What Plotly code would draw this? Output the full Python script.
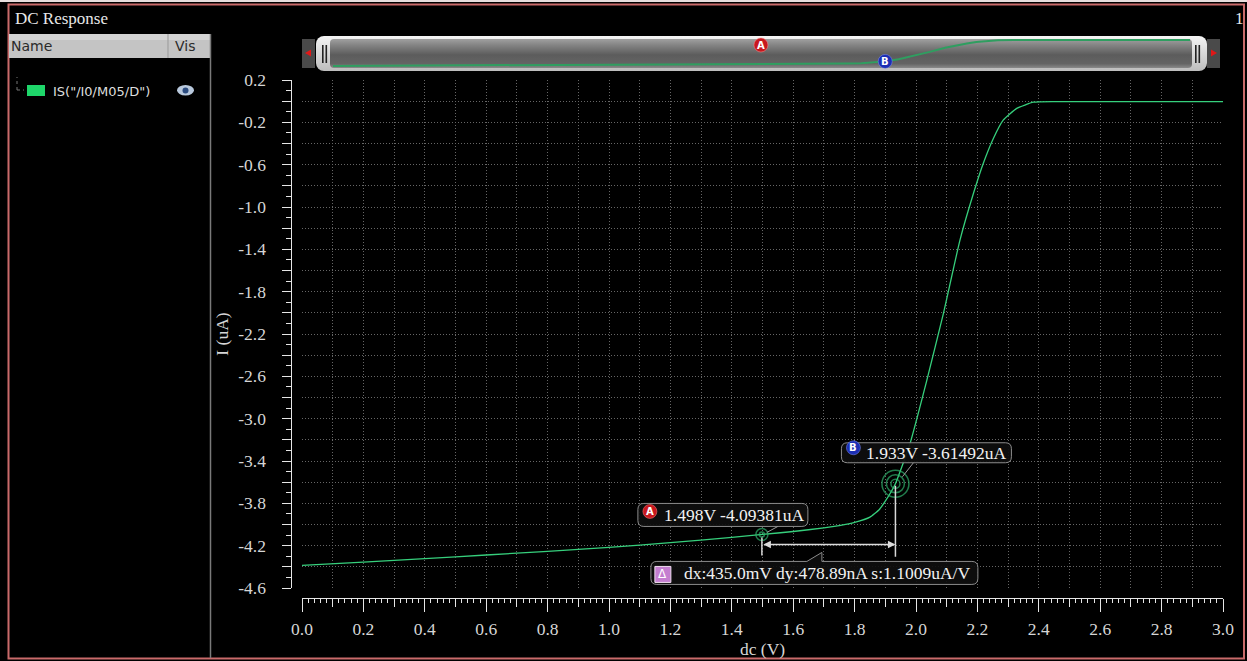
import urllib.parse
import plotly.graph_objects as go

# ---------------- data ----------------
dc_v = [0.0, 0.2, 0.4, 0.6, 0.8, 1.0, 1.2, 1.4, 1.5, 1.6, 1.7, 1.75, 1.8, 1.85,
        1.88, 1.9, 1.933, 1.98, 2.035, 2.089, 2.143, 2.187, 2.219, 2.252, 2.284,
        2.328, 2.382, 2.45, 2.6, 3.0]
i_ua = [-4.386, -4.355, -4.322, -4.288, -4.253, -4.216, -4.172, -4.122, -4.094,
        -4.066, -4.032, -4.01, -3.98, -3.93, -3.86, -3.78, -3.615, -3.24, -2.64,
        -2.01, -1.315, -0.873, -0.589, -0.352, -0.179, -0.068, -0.01, -0.004,
        -0.004, -0.004]

marker_names = ["A", "B"]
marker_x = [1.498, 1.933]
marker_y = [-4.09381, -3.61492]
marker_text = ["1.498V -4.09381uA", "1.933V -3.61492uA"]
delta_text = "dx:435.0mV dy:478.89nA s:1.1009uA/V"

x_tick_labels = ["0.0", "0.2", "0.4", "0.6", "0.8", "1.0", "1.2", "1.4", "1.6",
                 "1.8", "2.0", "2.2", "2.4", "2.6", "2.8", "3.0"]
y_tick_labels = ["0.2", "-0.2", "-0.6", "-1.0", "-1.4", "-1.8", "-2.2", "-2.6",
                 "-3.0", "-3.4", "-3.8", "-4.2", "-4.6"]
trace_name = 'IS("/I0/M05/D")'
window_title = "DC Response"

# ---------------- styling ----------------
W, H = 1247, 661
SERIF = "Liberation Serif"
SANS = "DejaVu Sans"
TRACE = "#36cf7c"
RING = "#2fb06c"
GRID = "#666666"
AXC = "#e6e6e6"
LBL = "#d6d6d6"


def px(x):
    return x / W


def py(y):
    return 1 - y / H


def rrect(x0, y0, x1, y1, r, notch=None):
    # pixel offsets, y positive = up ; y1 = top, y0 = bottom
    p = f"M {x0 + r},{y1} "
    if notch:
        a, b, tip = notch
        p += f"L {a},{y1} L {b},{tip} L {b},{y1} "
    p += (f"L {x1 - r},{y1} Q {x1},{y1} {x1},{y1 - r} L {x1},{y0 + r} "
          f"Q {x1},{y0} {x1 - r},{y0} L {x0 + r},{y0} Q {x0},{y0} {x0},{y0 + r} "
          f"L {x0},{y1 - r} Q {x0},{y1} {x0 + r},{y1} Z")
    return p


fig = go.Figure()

# main trace
fig.add_trace(go.Scatter(x=dc_v, y=i_ua, mode="lines", xaxis="x", yaxis="y",
                         line=dict(color=TRACE, width=1.3, shape="spline", smoothing=0.4),
                         showlegend=False, hoverinfo="skip"))
# invisible traces so the decorative axes are drawn
for xa, ya in [("x2", "y"), ("x3", "y"), ("x", "y2"), ("x", "y3")]:
    fig.add_trace(go.Scatter(x=dc_v, y=i_ua, mode="none", xaxis=xa, yaxis=ya,
                             showlegend=False, hoverinfo="skip"))

# overview trace
fig.add_trace(go.Scatter(x=dc_v, y=i_ua, mode="lines", xaxis="x4", yaxis="y4",
                         line=dict(color="#2f9e60", width=2),
                         showlegend=False, hoverinfo="skip"))

# marker rings
ax_, bx_ = marker_x
ay_, by_ = marker_y
fig.add_trace(go.Scatter(x=[bx_] * 3, y=[by_] * 3, mode="markers", xaxis="x", yaxis="y",
                         marker=dict(symbol="circle-open", size=[27, 18, 9],
                                     color=RING, line=dict(width=1.5, color=RING)),
                         showlegend=False, hoverinfo="skip"))
fig.add_trace(go.Scatter(x=[ax_] * 2, y=[ay_] * 2, mode="markers", xaxis="x", yaxis="y",
                         marker=dict(symbol="circle-open", size=[12, 5],
                                     color=RING, line=dict(width=1.5, color=RING)),
                         showlegend=False, hoverinfo="skip"))

shapes = []
annotations = []

# outer frame
shapes.append(dict(type="line", xref="paper", yref="paper", x0=0, x1=1,
                   y0=py(1), y1=py(1), line=dict(color="#e8dede", width=2)))
shapes.append(dict(type="rect", xref="paper", yref="paper", x0=px(8.5), x1=px(1244),
                   y0=py(658.5), y1=py(4.5), line=dict(color="#c96a6a", width=2),
                   layer="above"))
# left panel header
shapes.append(dict(type="rect", xref="paper", yref="paper", x0=px(9), x1=px(210),
                   y0=py(58), y1=py(34), fillcolor="#c4c4c4", line=dict(width=0)))
shapes.append(dict(type="rect", xref="paper", yref="paper", x0=px(9), x1=px(210),
                   y0=py(40), y1=py(34), fillcolor="#d4d4d4", line=dict(width=0)))
shapes.append(dict(type="line", xref="paper", yref="paper", x0=px(168), x1=px(168),
                   y0=py(58), y1=py(34), line=dict(color="#999999", width=1)))
shapes.append(dict(type="line", xref="paper", yref="paper", x0=px(210.5), x1=px(210.5),
                   y0=py(658), y1=py(34), line=dict(color="#7a7a7a", width=1.5)))
# legend row
shapes.append(dict(type="line", xref="paper", yref="paper", x0=px(17), x1=px(17),
                   y0=py(90), y1=py(77), line=dict(color="#777777", width=1, dash="dot")))
shapes.append(dict(type="line", xref="paper", yref="paper", x0=px(17), x1=px(24),
                   y0=py(90), y1=py(90), line=dict(color="#777777", width=1, dash="dot")))
shapes.append(dict(type="rect", xref="paper", yref="paper", x0=px(27), x1=px(45),
                   y0=py(96), y1=py(85), fillcolor="#1ed66a", line=dict(width=0)))
shapes.append(dict(type="circle", xref="paper", yref="paper", x0=px(177), x1=px(194),
                   y0=py(95.5), y1=py(85), fillcolor="#b9c9dd", line=dict(width=0)))
shapes.append(dict(type="circle", xref="paper", yref="paper", x0=px(182.5), x1=px(188.5),
                   y0=py(93.5), y1=py(87.5), fillcolor="#2c4c80", line=dict(width=0)))

# ---- marker label boxes (pixel-sized, anchored at the marker points) ----
BOXFILL = "rgba(14,14,14,0.92)"
BOXLINE = "#8c8c8c"


def anchored(**kw):
    d = dict(xref="x", yref="y", xsizemode="pixel", ysizemode="pixel", layer="above")
    d.update(kw)
    return d


# A
shapes.append(anchored(type="path", xanchor=ax_, yanchor=ay_,
                       path=rrect(-124, 8, 46, 31, 6), fillcolor=BOXFILL,
                       line=dict(color=BOXLINE, width=1)))
shapes.append(anchored(type="line", xanchor=ax_, yanchor=ay_, x0=16, y0=8, x1=5, y1=2,
                       line=dict(color="#9a9a9a", width=1)))
shapes.append(anchored(type="circle", xanchor=ax_, yanchor=ay_, x0=-119, x1=-105,
                       y0=16, y1=30, fillcolor="#c8181e", line=dict(color="#ff8080", width=0.5)))
# B
shapes.append(anchored(type="path", xanchor=bx_, yanchor=by_,
                       path=rrect(-54, 21, 116, 41, 6), fillcolor=BOXFILL,
                       line=dict(color=BOXLINE, width=1)))
shapes.append(anchored(type="line", xanchor=bx_, yanchor=by_, x0=18, y0=21, x1=7, y1=7,
                       line=dict(color="#9a9a9a", width=1)))
shapes.append(anchored(type="circle", xanchor=bx_, yanchor=by_, x0=-49, x1=-35,
                       y0=29, y1=43, fillcolor="#1c2fb4", line=dict(color="#8090ff", width=0.5)))
# delta
shapes.append(anchored(type="path", xanchor=ax_, yanchor=ay_,
                       path=rrect(-111, -50, 216, -27, 6, notch=(45, 60, -18)),
                       fillcolor=BOXFILL, line=dict(color=BOXLINE, width=1)))
shapes.append(anchored(type="rect", xanchor=ax_, yanchor=ay_, x0=-107, x1=-91,
                       y0=-48, y1=-32, fillcolor="#c47ed0", line=dict(color="#f0e0f0", width=1)))
# vertical drop lines from markers
shapes.append(dict(type="line", xref="x", yref="y", ysizemode="pixel", x0=ax_, x1=ax_,
                   yanchor=ay_, y0=-3, y1=-21, line=dict(color="#d8d8d8", width=1.5)))
shapes.append(dict(type="line", xref="x", yref="y", ysizemode="pixel", x0=bx_, x1=bx_,
                   yanchor=by_, y0=-2, y1=-73, line=dict(color="#d8d8d8", width=1.5)))

# delta arrow
annotations.append(dict(x=bx_, y=ay_, xref="x", yref="y", ax=ax_, ay=0, axref="x",
                        ayref="pixel", yshift=-10, text="", showarrow=True,
                        arrowhead=2, startarrowhead=2, arrowside="end+start",
                        arrowsize=1, arrowwidth=1.5, arrowcolor="#dcdcdc"))

lab_font = dict(family=SERIF, size=17.5, color="#f2f2f2")
annotations.append(dict(x=ax_, y=ay_, xref="x", yref="y", xshift=-27, yshift=19,
                        text=marker_text[0], showarrow=False, font=lab_font))
annotations.append(dict(x=bx_, y=by_, xref="x", yref="y", xshift=41, yshift=31,
                        text=marker_text[1], showarrow=False, font=lab_font))
annotations.append(dict(x=ax_, y=ay_, xref="x", yref="y", xshift=65, yshift=-39,
                        text=delta_text, showarrow=False, font=lab_font))
badge_font = dict(family=SANS, size=10, color="white")
annotations.append(dict(x=ax_, y=ay_, xref="x", yref="y", xshift=-112, yshift=23,
                        text="<b>%s</b>" % marker_names[0], showarrow=False, font=badge_font))
annotations.append(dict(x=bx_, y=by_, xref="x", yref="y", xshift=-42, yshift=36,
                        text="<b>%s</b>" % marker_names[1], showarrow=False, font=badge_font))
annotations.append(dict(x=ax_, y=ay_, xref="x", yref="y", xshift=-99, yshift=-40,
                        text="Δ", showarrow=False, font=dict(family=SANS, size=12, color="white")))

# ---- overview (scroll) bar ----
svg = (
    "<svg xmlns='http://www.w3.org/2000/svg' width='918' height='36' viewBox='0 0 918 36'>"
    "<defs><linearGradient id='g' x1='0' y1='0' x2='0' y2='1'>"
    "<stop offset='0' stop-color='#a0a0a0'/><stop offset='0.2' stop-color='#858585'/>"
    "<stop offset='0.55' stop-color='#5c5c5c'/><stop offset='0.85' stop-color='#646464'/>"
    "<stop offset='1' stop-color='#8a8a8a'/></linearGradient>"
    "<linearGradient id='w' x1='0' y1='0' x2='0' y2='1'>"
    "<stop offset='0' stop-color='#f4f4f4'/><stop offset='0.5' stop-color='#d8d8d8'/>"
    "<stop offset='1' stop-color='#bdbdbd'/></linearGradient></defs>"
    "<rect x='0' y='3' width='13' height='29' fill='#4a4a4a'/>"
    "<path d='M3,17 L9,13.5 L9,20.5 Z' fill='#e01818'/>"
    "<rect x='905' y='3' width='13' height='29' fill='#4a4a4a'/>"
    "<path d='M915,17 L909,13.5 L909,20.5 Z' fill='#e01818'/>"
    "<rect x='14' y='0' width='891' height='35' rx='8' fill='url(#w)'/>"
    "<rect x='28' y='3' width='862' height='29' rx='4' fill='url(#g)'/>"
    "<rect x='20' y='9' width='1.6' height='18' fill='#222'/>"
    "<rect x='23.5' y='9' width='1.6' height='18' fill='#222'/>"
    "<rect x='893' y='9' width='1.6' height='18' fill='#222'/>"
    "<rect x='896.5' y='9' width='1.6' height='18' fill='#222'/>"
    "</svg>"
)
svg_uri = "data:image/svg+xml;charset=utf-8," + urllib.parse.quote(svg)
images = [dict(source=svg_uri, xref="paper", yref="paper", x=px(302), y=py(36),
               sizex=px(918), sizey=36 / H, xanchor="left", yanchor="top",
               sizing="stretch", layer="below")]

# overview badges
shapes.append(dict(type="circle", xref="x4", yref="paper", xsizemode="pixel",
                   ysizemode="pixel", xanchor=ax_, yanchor=py(45), x0=-7, x1=7, y0=-7, y1=7,
                   fillcolor="#c8181e", line=dict(color="#ff9090", width=0.5), layer="above"))
shapes.append(dict(type="circle", xref="x4", yref="y4", xsizemode="pixel",
                   ysizemode="pixel", xanchor=bx_, yanchor=by_, x0=-7, x1=7, y0=-7, y1=7,
                   fillcolor="#1c2fb4", line=dict(color="#8090ff", width=0.5), layer="above"))
annotations.append(dict(x=ax_, y=py(45), xref="x4", yref="paper", text="<b>A</b>",
                        xanchor="center", yanchor="middle",
                        showarrow=False, font=badge_font))
annotations.append(dict(x=bx_, y=by_, xref="x4", yref="y4", text="<b>B</b>",
                        xanchor="center", yanchor="middle",
                        showarrow=False, font=badge_font))

# ---- window texts ----
annotations.append(dict(x=px(13), y=py(18), xref="paper", yref="paper", xanchor="left",
                        yanchor="middle", text=window_title, showarrow=False,
                        font=dict(family=SERIF, size=17, color="#e8e8e8")))
annotations.append(dict(x=px(1239), y=py(18), xref="paper", yref="paper", xanchor="center",
                        yanchor="middle", text="1", showarrow=False,
                        font=dict(family=SERIF, size=17, color="#e8e8e8")))
annotations.append(dict(x=px(9), y=py(46), xref="paper", yref="paper", xanchor="left",
                        yanchor="middle", text="Name", showarrow=False,
                        font=dict(family=SANS, size=14, color="#2a2a2a")))
annotations.append(dict(x=px(173), y=py(46), xref="paper", yref="paper", xanchor="left",
                        yanchor="middle", text="Vis", showarrow=False,
                        font=dict(family=SANS, size=14, color="#2a2a2a")))
annotations.append(dict(x=px(51), y=py(91), xref="paper", yref="paper", xanchor="left",
                        yanchor="middle", text=trace_name, showarrow=False,
                        font=dict(family=SANS, size=13, color="#dedede")))

tick_font = dict(family=SERIF, size=17.5, color=LBL)
x_vals = [float(t) for t in x_tick_labels]
y_vals = [float(t) for t in y_tick_labels]

fig.update_layout(
    width=W, height=H, autosize=False,
    margin=dict(l=0, r=0, t=0, b=0, pad=0),
    paper_bgcolor="#000000", plot_bgcolor="rgba(0,0,0,0)",
    showlegend=False,
    xaxis=dict(domain=[px(302), px(1223)], range=[0, 3], anchor="y", automargin=False,
               showgrid=True, gridcolor=GRID, griddash="1px,2px", gridwidth=1,
               tickmode="linear", tick0=0, dtick=0.1, ticks="", showticklabels=False,
               showline=False, zeroline=False, fixedrange=True),
    yaxis=dict(domain=[py(588), py(80)], range=[-4.6, 0.2], anchor="x", automargin=False,
               showgrid=True, gridcolor=GRID, griddash="1px,2px", gridwidth=1,
               tickmode="linear", tick0=0.2, dtick=0.2, ticks="", showticklabels=False,
               showline=False, zeroline=False, fixedrange=True),
    xaxis2=dict(overlaying="x", anchor="free", position=py(598), side="bottom",
                automargin=False, range=[0, 3], showgrid=False, zeroline=False,
                showline=True, linecolor=AXC, linewidth=1,
                ticks="outside", ticklen=13, tickwidth=1, tickcolor=AXC,
                tickmode="array", tickvals=x_vals, ticktext=x_tick_labels,
                tickfont=tick_font, ticklabelstandoff=2,
                minor=dict(ticks="outside", tickmode="linear", tick0=0, dtick=0.02,
                           ticklen=4, tickwidth=1, tickcolor=AXC, showgrid=False),
                title=dict(text="dc (V)", font=dict(family=SERIF, size=17.5, color=LBL),
                           standoff=2)),
    xaxis3=dict(overlaying="x", anchor="free", position=py(598), side="bottom",
                automargin=False, range=[0, 3], showgrid=False, zeroline=False,
                showline=False, ticks="outside", ticklen=8, tickwidth=1, tickcolor=AXC,
                tickmode="linear", tick0=0, dtick=0.1, showticklabels=False),
    yaxis2=dict(overlaying="y", anchor="free", position=px(290.5), side="left",
                automargin=False, range=[-4.6, 0.2], showgrid=False, zeroline=False,
                showline=True, linecolor=AXC, linewidth=1,
                ticks="outside", ticklen=9, tickwidth=1, tickcolor=AXC,
                tickmode="array", tickvals=y_vals, ticktext=y_tick_labels,
                tickfont=tick_font, ticklabelstandoff=12,
                title=dict(text="I (uA)", font=dict(family=SERIF, size=17.5, color=LBL),
                           standoff=4)),
    yaxis3=dict(overlaying="y", anchor="free", position=px(290.5), side="left",
                automargin=False, range=[-4.6, 0.2], showgrid=False, zeroline=False,
                showline=False, ticks="outside", ticklen=9, tickwidth=1, tickcolor=AXC,
                tickmode="linear", tick0=0.2, dtick=0.2, showticklabels=False,
                minor=dict(ticks="outside", tickmode="linear", tick0=0.2, dtick=0.1,
                           ticklen=5, tickwidth=1, tickcolor=AXC, showgrid=False)),
    xaxis4=dict(domain=[px(333), px(1190)], range=[0, 3], anchor="y4", visible=False,
                automargin=False, fixedrange=True),
    yaxis4=dict(domain=[py(68.4), py(37.6)], range=[-4.8, 0.4], anchor="x4",
                visible=False, automargin=False, fixedrange=True),
    shapes=shapes,
    annotations=annotations,
    images=images,
)

fig.write_html("out.html",
               config={"displayModeBar": False},
               post_script="document.body.style.margin='0';"
                           "document.documentElement.style.background='#000';")
